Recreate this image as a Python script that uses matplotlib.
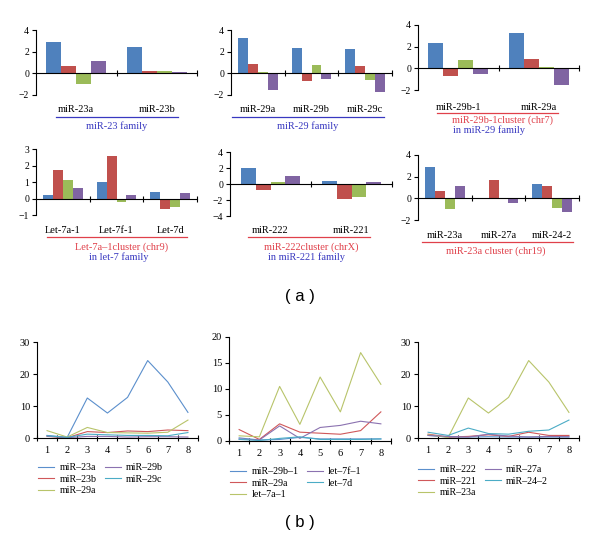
import matplotlib
matplotlib.use("Agg")
import matplotlib.pyplot as plt
from matplotlib.lines import Line2D
from matplotlib.transforms import blended_transform_factory
import numpy as np

plt.rcParams['font.family'] = ['Liberation Serif', 'DejaVu Serif']

# ---------------- data (a) ----------------
p1_cats = ['miR-23a', 'miR-23b']
p1_vals = [[2.85, 0.65, -0.95, 1.1], [2.4, 0.25, 0.2, 0.1]]
p2_cats = ['miR-29a', 'miR-29b', 'miR-29c']
p2_vals = [[3.25, 0.9, 0.15, -1.5], [2.3, -0.7, 0.8, -0.55], [2.2, 0.7, -0.6, -1.75]]
p3_cats = ['miR-29b-1', 'miR-29a']
p3_vals = [[2.3, -0.7, 0.75, -0.55], [3.25, 0.9, 0.15, -1.5]]
p4_cats = ['Let-7a-1', 'Let-7f-1', 'Let-7d']
p4_vals = [[0.2, 1.7, 1.1, 0.65], [1.0, 2.55, -0.2, 0.2], [0.4, -0.65, -0.5, 0.35]]
p5_cats = ['miR-222', 'miR-221']
p5_vals = [[2.0, -0.7, 0.2, 0.95], [0.35, -1.85, -1.6, 0.25]]
p6_cats = ['miR-23a', 'miR-27a', 'miR-24-2']
p6_vals = [[2.85, 0.65, -0.95, 1.1], [0.0, 1.65, -0.1, -0.4], [1.35, 1.15, -0.85, -1.25]]

# ---------------- data (b) ----------------
x_points = [1, 2, 3, 4, 5, 6, 7, 8]
b1_labels = ['miR–23a', 'miR–23b', 'miR–29a', 'miR–29b', 'miR–29c']
b1_miR23a = [0.8, 0.2, 12.5, 7.8, 12.7, 24.2, 17.5, 8.0]
b1_miR23b = [0.5, 0.1, 2.0, 1.7, 2.2, 2.0, 2.5, 2.3]
b1_miR29a = [2.3, 0.3, 3.3, 1.7, 1.6, 1.5, 1.8, 5.6]
b1_miR29b = [0.6, 0.1, 0.5, 0.5, 0.3, 0.4, 0.4, 0.3]
b1_miR29c = [0.7, 0.2, 1.2, 1.0, 0.8, 0.8, 0.7, 1.7]

b2_labels = ['miR–29b–1', 'miR–29a', 'let–7a–1', 'let–7f–1', 'let–7d']
b2_miR29b1 = [0.6, 0.2, 0.3, 0.7, 0.4, 0.4, 0.4, 0.4]
b2_miR29a = [2.2, 0.3, 3.3, 1.7, 1.5, 1.3, 2.0, 5.6]
b2_let7a1 = [1.0, 0.8, 10.5, 3.2, 12.3, 5.6, 17.0, 10.9]
b2_let7f1 = [0.4, 0.2, 2.9, 0.5, 2.6, 3.0, 3.8, 3.3]
b2_let7d = [0.3, 0.1, 0.5, 0.8, 0.3, 0.3, 0.3, 0.4]

b3_labels = ['miR–222', 'miR–221', 'miR–23a', 'miR–27a', 'miR–24–2']
b3_miR222 = [0.8, 0.3, 0.3, 0.4, 0.3, 0.3, 0.3, 0.3]
b3_miR221 = [1.2, 0.3, 0.5, 1.0, 0.5, 1.8, 0.8, 0.8]
b3_miR23a = [1.0, 0.2, 12.5, 7.8, 12.7, 24.2, 17.5, 8.0]
b3_miR27a = [0.8, 0.5, 0.3, 1.2, 0.6, 0.3, 0.5, 0.4]
b3_miR242 = [1.8, 0.8, 3.1, 1.4, 1.2, 2.1, 2.5, 5.6]

bar_colors = ['#4F81BD', '#C0504D', '#9BBB59', '#8064A2']
line_colors = ['#5B8FCC', '#D0585A', '#B8C46A', '#8B72B0', '#4BACC6']
BLUE_T = '#3838C0'
RED_T = '#E0404A'

W, H = 600, 552
fig = plt.figure(figsize=(6, 5.52), dpi=100)


def P(x, y):
    return (x / W, 1 - y / H)


def add_ax(left, top, right, bottom):
    return fig.add_axes([left / W, 1 - bottom / H, (right - left) / W, (bottom - top) / H])


def ftext(x, y, s, color='black', ha='center', size=7.5):
    fig.text(x / W, 1 - y / H, s, color=color, ha=ha, va='center', fontsize=size)


def fline(x0, x1, y, color):
    fig.add_artist(Line2D([x0 / W, x1 / W], [1 - y / H, 1 - y / H], color=color,
                          lw=0.9, transform=fig.transFigure))


def bar_panel(rect, cats, vals, ylim, yticks, label_y):
    ax = add_ax(*rect)
    n = len(cats)
    w = 0.185
    vals = np.array(vals)
    for j in range(4):
        xs = np.arange(n) + 0.5 + (j - 1.5) * w
        ax.bar(xs, vals[:, j], width=w, color=bar_colors[j], linewidth=0)
    ax.set_xlim(0, n)
    ax.set_ylim(*ylim)
    ax.set_yticks(yticks)
    ax.set_yticklabels([str(t).replace('-', '−') for t in yticks])
    ax.spines['top'].set_visible(False)
    ax.spines['right'].set_visible(False)
    ax.spines['bottom'].set_position(('data', 0))
    for s in ['left', 'bottom']:
        ax.spines[s].set_linewidth(0.8)
    ax.set_xticks(np.arange(1, n + 1))
    ax.set_xticklabels([])
    ax.tick_params(axis='x', direction='inout', length=4, width=0.8)
    ax.tick_params(axis='y', direction='out', length=3, width=0.8, labelsize=7, pad=2)
    tr = blended_transform_factory(ax.transData, fig.transFigure)
    for i, c in enumerate(cats):
        ax.text(i + 0.5, 1 - label_y / H, c, transform=tr, ha='center', va='center',
                fontsize=7.5, clip_on=False)
    return ax


# ----- (a) panels -----
bar_panel((36, 30, 197, 95), p1_cats, p1_vals, (-2, 4), [-2, 0, 2, 4], 110)
fline(56, 178, 117, BLUE_T)
ftext(117, 126, 'miR-23 family', BLUE_T)

bar_panel((231, 30, 392, 95), p2_cats, p2_vals, (-2, 4), [-2, 0, 2, 4], 110)
fline(232, 384, 117, BLUE_T)
ftext(308, 126, 'miR-29 family', BLUE_T)

bar_panel((418, 25, 579, 90), p3_cats, p3_vals, (-2, 4), [-2, 0, 2, 4], 107)
fline(437, 558, 113, RED_T)
ftext(503, 120, 'miR-29b-1cluster (chr7)', RED_T)
ftext(453, 130, 'in miR-29 family', BLUE_T, ha='left')

bar_panel((36, 149, 197, 215), p4_cats, p4_vals, (-1, 3), [-1, 0, 1, 2, 3], 230)
fline(47, 187, 237, RED_T)
ftext(122, 247, 'Let-7a–1cluster (chr9)', RED_T)
ftext(89, 257, 'in let-7 family', BLUE_T, ha='left')

bar_panel((230, 152, 392, 216), p5_cats, p5_vals, (-4, 4), [-4, -2, 0, 2, 4], 230)
fline(248, 370, 237, RED_T)
ftext(311, 247, 'miR-222cluster (chrX)', RED_T)
ftext(268, 257, 'in miR-221 family', BLUE_T, ha='left')

bar_panel((418, 155, 579, 220), p6_cats, p6_vals, (-2, 4), [-2, 0, 2, 4], 236)
fline(422, 573, 242, RED_T)
ftext(496, 251, 'miR-23a cluster (chr19)', RED_T)

fig.text(0.5, 1 - 297 / H, '( a )', ha='center', va='center', fontsize=12,
         family=['Liberation Sans', 'DejaVu Sans'])
fig.text(0.5, 1 - 522 / H, '( b )', ha='center', va='center', fontsize=12,
         family=['Liberation Sans', 'DejaVu Sans'])


# ----- (b) panels -----
def line_panel(rect, series, labels, ylim, yticks, legend_xy):
    ax = add_ax(*rect)
    for k, (s, lab) in enumerate(zip(series, labels)):
        ax.plot(x_points, s, color=line_colors[k], lw=0.8, label=lab)
    ax.set_xlim(0.5, 8.5)
    ax.set_ylim(*ylim)
    ax.set_yticks(yticks)
    ax.set_xticks(x_points)
    ax.set_xticks(np.arange(0.5, 9.0, 1.0), minor=True)
    ax.spines['top'].set_visible(False)
    ax.spines['right'].set_visible(False)
    for s in ['left', 'bottom']:
        ax.spines[s].set_linewidth(0.8)
    ax.tick_params(axis='x', which='major', length=0, labelsize=7.5, pad=6)
    ax.tick_params(axis='x', which='minor', direction='inout', length=5, width=0.8)
    ax.tick_params(axis='y', direction='out', length=3, width=0.8, labelsize=7.5, pad=2)
    ax.legend(loc='upper left', bbox_to_anchor=P(*legend_xy), bbox_transform=fig.transFigure,
              ncol=2, frameon=False, fontsize=7.2, borderpad=0, borderaxespad=0,
              handlelength=1.6, handletextpad=0.55, columnspacing=0.8, labelspacing=0.25)
    return ax


line_panel((37, 342, 198, 438),
           [b1_miR23a, b1_miR23b, b1_miR29a, b1_miR29b, b1_miR29c],
           b1_labels, (0, 30), [0, 10, 20, 30], (38, 463))
line_panel((229, 337, 391, 441),
           [b2_miR29b1, b2_miR29a, b2_let7a1, b2_let7f1, b2_let7d],
           b2_labels, (0, 20), [0, 5, 10, 15, 20], (230, 467))
line_panel((418, 342, 579, 438),
           [b3_miR222, b3_miR221, b3_miR23a, b3_miR27a, b3_miR242],
           b3_labels, (0, 30), [0, 10, 20, 30], (418, 465))

fig.savefig('out.png', dpi=100)
